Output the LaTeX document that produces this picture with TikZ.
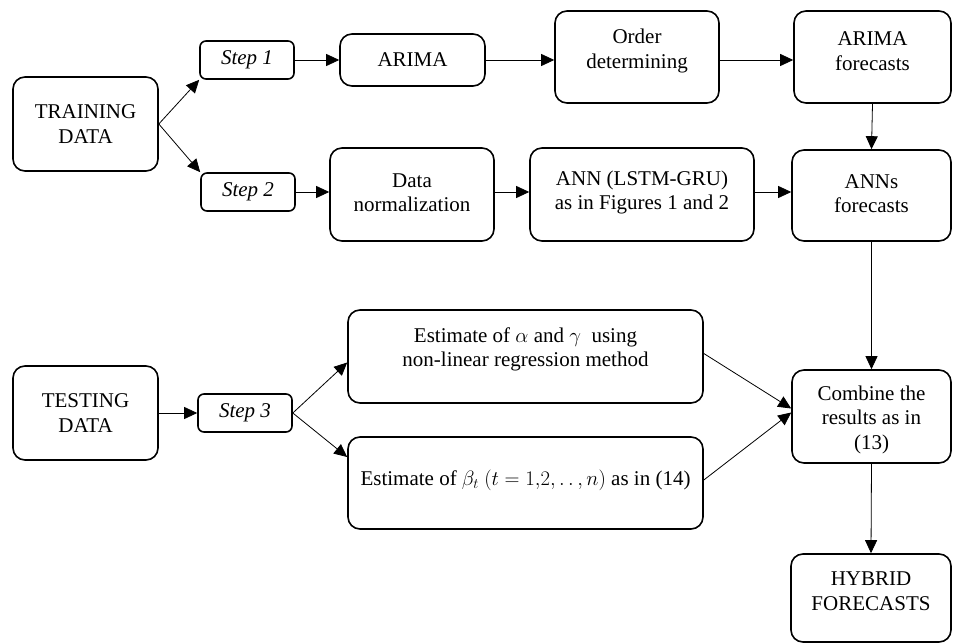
\documentclass[tikz,border=0pt]{standalone}
\usepackage{fontspec}
\setmainfont{Liberation Serif}
\usetikzlibrary{arrows.meta}
\begin{document}
\begin{tikzpicture}[x=1pt,y=-1pt,
  box/.style={draw, line width=1.6pt, rounded corners=12pt, inner sep=0pt},
  stepbox/.style={draw, line width=1.6pt, rounded corners=6pt, inner sep=0pt, minimum width=94pt, minimum height=38pt, font=\fontsize{21}{24.5}\selectfont\itshape},
  txt/.style={inner sep=0pt, align=center, font=\fontsize{21}{24.5}\selectfont},
  arr/.style={line width=0.8pt, -{Triangle[length=13pt,width=12pt]}}]
\useasboundingbox (0,0) rectangle (953,644);
% top row
\node[box, minimum width=145pt, minimum height=94pt] (train) at (85.5,124) {};
\node[txt] at (train.center) {TRAINING\\DATA};
\node[stepbox] (s1) at (247,60) {Step 1};
\node[box, minimum width=145pt, minimum height=52pt] (arima) at (412.5,60) {};
\node[txt] at (arima.center) {ARIMA};
\node[box, minimum width=164pt, minimum height=92pt] (order) at (637,57) {};
\node[txt] at ([yshift=6pt]order.center) {Order\\determining};
\node[box, minimum width=157pt, minimum height=92pt] (af) at (872.5,57) {};
\node[txt] at ([yshift=6pt]af.center) {ARIMA\\forecasts};
% second row
\node[stepbox] (s2) at (248,192) {Step 2};
\node[box, minimum width=164pt, minimum height=93pt] (norm) at (412,194.5) {};
\node[txt] at ([yshift=2pt]norm.center) {Data\\normalization};
\node[box, minimum width=224pt, minimum height=93pt] (ann) at (642,194.5) {};
\node[txt] at ([yshift=2pt]ann.center) {ANN (LSTM-GRU)\\as in Figures 1 and 2};
\node[box, minimum width=159pt, minimum height=91pt] (annf) at (871.5,195.5) {};
\node[txt] at ([yshift=2pt]annf.center) {ANNs\\forecasts};
% testing part
\node[box, minimum width=145pt, minimum height=94pt] (test) at (85.5,413) {};
\node[txt] at (test.center) {TESTING\\DATA};
\node[stepbox] (s3) at (245,413) {Step 3};
\node[box, minimum width=355pt, minimum height=93pt] (ea) at (525.5,356.5) {};
\node[txt] at ([yshift=7pt]ea.center) {Estimate of $\alpha$ and $\gamma$\ \ using\\non-linear regression method};
\node[box, minimum width=355pt, minimum height=92pt] (eb) at (525.5,483) {};
\node[txt] at ([yshift=3pt]eb.center) {Estimate of $\beta_t$ $(t=1{,}2,\ldotp\ldotp,n)$ as in (14)};
\node[box, minimum width=159pt, minimum height=93pt] (comb) at (871.5,416.5) {};
\node[txt] at ([yshift=-3pt]comb.center) {Combine the\\results as in\\(13)};
\node[box, minimum width=160pt, minimum height=88pt] (hyb) at (871,598) {};
\node[txt] at ([yshift=7pt]hyb.center) {HYBRID\\FORECASTS};
% connectors
\draw[arr] (train.east) -- (s1.south west);
\draw[arr] (train.east) -- (s2.north west);
\draw[arr] (s1.east) -- (arima.west);
\draw[arr] (arima.east) -- (order.west |- arima.east);
\draw[arr] (order.east |- arima.east) -- (af.west |- arima.east);
\draw[arr] (af.south) -- (annf.north);
\draw[arr] (s2.east) -- (norm.west |- s2.east);
\draw[arr] (norm.east |- s2.east) -- (ann.west |- s2.east);
\draw[arr] (ann.east |- s2.east) -- (annf.west |- s2.east);
\draw[arr] (annf.south) -- (comb.north);
\draw[arr] (test.east) -- (s3.west);
\draw[arr] (s3.east) -- ([yshift=-6pt]ea.west);
\draw[arr] (s3.east) -- ([yshift=26pt]eb.west);
\draw[arr] ([yshift=3pt]ea.east) -- ([yshift=8pt]comb.west);
\draw[arr] ([yshift=3pt]eb.east) -- ([yshift=4pt]comb.west);
\draw[arr] (comb.south) -- (hyb.north);
\end{tikzpicture}
\end{document}
